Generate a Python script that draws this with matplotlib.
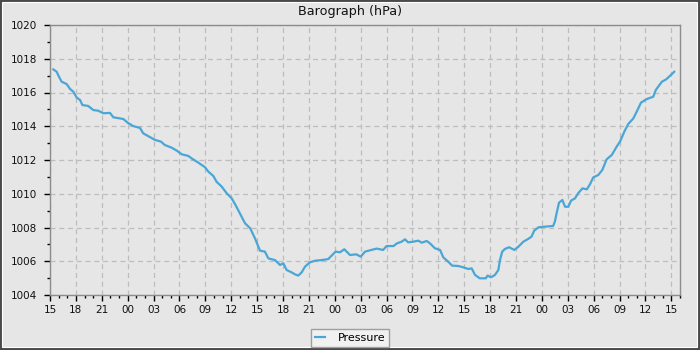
import matplotlib
matplotlib.use("Agg")
import matplotlib.pyplot as plt
import matplotlib.ticker as ticker
from matplotlib.patches import Rectangle

hours = [0.38, 0.77, 1.04, 1.35, 1.93, 2.32, 2.7, 3.09, 3.48, 3.75, 4.44, 5.02, 5.6, 6.18,
         6.95, 7.34, 8.5, 9.0, 9.65, 10.43, 10.8, 11.6, 12.17, 12.86, 13.3, 14.1, 14.7,
         15.26, 16.03, 16.4, 17.2, 17.96, 18.35, 18.93, 19.3, 19.9, 20.47, 21.05, 21.5,
         22.0, 22.6, 23.2, 23.75, 24.14, 24.33, 24.9, 25.3, 26.07, 26.65, 27.04, 27.42,
         28.0, 28.4, 28.77, 29.16, 29.55, 30.13, 30.7, 31.48, 32.25, 32.7, 33.1, 33.6,
         34.1, 34.76, 35.5, 36.0, 36.5, 37.27, 37.85, 38.6, 39.0, 39.8, 40.2, 40.75,
         41.13, 41.5, 42.1, 42.68, 43.07, 43.65, 44.03, 44.6, 45.2, 45.57, 46.15, 46.6,
         47.3, 47.9, 48.47, 48.86, 49.25, 49.8, 50.5, 50.7, 51.1, 51.56, 51.95, 52.14,
         52.4, 52.72, 53.2, 53.8, 54.27, 54.85, 55.4, 55.8, 56.1, 56.6, 57.36, 58.3,
         58.5, 58.7, 58.98, 59.37, 59.68, 60.06, 60.37, 60.84, 61.2, 61.7, 62.2, 62.57,
         62.95, 63.53, 64.0, 64.5, 65.1, 65.66, 66.05, 66.55, 67.0, 67.6, 67.98, 68.48,
         69.14, 69.9, 70.2, 70.9, 71.4, 71.95, 72.33]
pressure = [1017.37, 1017.23, 1016.94, 1016.64, 1016.5, 1016.21, 1016.05, 1015.7, 1015.56,
            1015.26, 1015.2, 1014.96, 1014.92, 1014.77, 1014.79, 1014.53, 1014.43, 1014.21,
            1014.01, 1013.9, 1013.58, 1013.35, 1013.19, 1013.09, 1012.89, 1012.73, 1012.55,
            1012.34, 1012.24, 1012.1, 1011.84, 1011.57, 1011.31, 1011.05, 1010.71, 1010.42,
            1010.03, 1009.73, 1009.33, 1008.84, 1008.25, 1007.95, 1007.36, 1006.86, 1006.63,
            1006.57, 1006.17, 1006.07, 1005.78, 1005.88, 1005.48, 1005.34, 1005.22, 1005.15,
            1005.34, 1005.68, 1005.94, 1006.03, 1006.07, 1006.13, 1006.37, 1006.57, 1006.53,
            1006.71, 1006.37, 1006.41, 1006.27, 1006.57, 1006.67, 1006.75, 1006.67, 1006.9,
            1006.9, 1007.06, 1007.16, 1007.3, 1007.12, 1007.16, 1007.22, 1007.1, 1007.2,
            1007.06, 1006.77, 1006.67, 1006.23, 1005.97, 1005.74, 1005.72, 1005.64, 1005.54,
            1005.58, 1005.19, 1004.99, 1004.99, 1005.15, 1005.05, 1005.19, 1005.48, 1006.07,
            1006.57, 1006.73, 1006.83, 1006.67, 1006.86, 1007.16, 1007.32, 1007.46, 1007.81,
            1008.01, 1008.05, 1008.09, 1008.35, 1008.84, 1009.47, 1009.63, 1009.23, 1009.23,
            1009.59, 1009.73, 1010.03, 1010.32, 1010.26, 1010.56, 1010.97, 1011.11, 1011.41,
            1012.04, 1012.3, 1012.79, 1013.09, 1013.68, 1014.13, 1014.47, 1014.86, 1015.4,
            1015.61, 1015.75, 1016.15, 1016.64, 1016.78, 1017.04, 1017.23]
start_hour = 15

bg = '#e6e6e6'
fig = plt.figure(figsize=(7, 3.5), dpi=100, facecolor='#4a4a4a')
# light panel inside the dark frame
fig.patches.append(Rectangle((2 / 700, 3 / 350), 695 / 700, 345 / 350, transform=fig.transFigure,
                             facecolor=bg, edgecolor='white', linewidth=0.8, zorder=-1))

ax = fig.add_axes([50 / 700, 55 / 350, 630 / 700, 270 / 350])
ax.set_facecolor(bg)
ax.plot(hours, pressure, color='#4aa6d6', linewidth=1.6, label='Pressure')

ax.set_xlim(0, 73)
ax.set_ylim(1004, 1020)
ax.xaxis.set_major_locator(ticker.MultipleLocator(3))
ax.xaxis.set_minor_locator(ticker.MultipleLocator(1))
ax.xaxis.set_major_formatter(ticker.FuncFormatter(lambda v, p: '%02d' % ((int(round(v)) + start_hour) % 24)))
ax.yaxis.set_major_locator(ticker.MultipleLocator(2))
ax.yaxis.set_minor_locator(ticker.MultipleLocator(1))
ax.yaxis.set_major_formatter(ticker.FormatStrFormatter('%d'))

ax.grid(True, which='major', color='#bdbdbd', linestyle=(0, (4, 3)), linewidth=0.9)
ax.set_axisbelow(True)
for s in ax.spines.values():
    s.set_color('#8c8c8c')
    s.set_linewidth(1.0)
ax.tick_params(which='major', length=4, width=1, color='black', labelsize=7.5, labelcolor='#111111')
ax.tick_params(which='minor', length=2.5, width=1, color='black')
ax.tick_params(axis='y', pad=5)
ax.tick_params(axis='x', pad=3)

fig.text(0.5, 1 - 12 / 350, 'Barograph (hPa)', ha='center', va='center', fontsize=9.2, color='#111111')

leg = fig.legend(loc='lower center', bbox_to_anchor=(0.5, 3 / 350), fontsize=8, frameon=True,
                 fancybox=False, handlelength=0.9, borderpad=0.35, handletextpad=1.2,
                 borderaxespad=0)
leg.get_frame().set_facecolor('#f4f4f4')
leg.get_frame().set_edgecolor('#8c8c8c')
leg.get_frame().set_linewidth(1.0)

fig.savefig('out.png', dpi=100, facecolor=fig.get_facecolor())
